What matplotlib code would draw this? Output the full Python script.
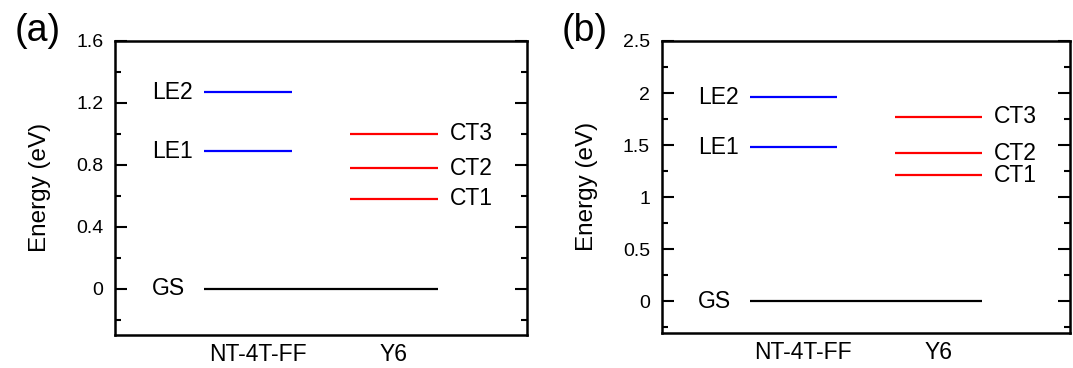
import matplotlib.pyplot as plt
from matplotlib.ticker import MultipleLocator

plt.rcParams["font.family"] = ["Liberation Sans", "DejaVu Sans"]

# state energies (eV)
donor_labels = ["LE1", "LE2"]
ct_labels = ["CT1", "CT2", "CT3"]

donor_a = [0.885, 1.266]
ct_a = [0.58, 0.778, 0.998]

donor_b = [1.478, 1.961]
ct_b = [1.21, 1.421, 1.772]

gs_energy = 0.0
categories = ["NT-4T-FF", "Y6"]

# horizontal extents of the level bars (x units)
donor_span = (0.864, 1.717)
ct_span = (2.283, 3.14)


def draw_panel(ax, donor, ct, ylim, major, minor):
    ax.hlines(gs_energy, donor_span[0], ct_span[1], color="black", lw=1.6)
    ax.hlines(donor, donor_span[0], donor_span[1], color="#0000ff", lw=1.6)
    ax.hlines(ct, ct_span[0], ct_span[1], color="#ff0000", lw=1.6)

    ax.text(0.357, gs_energy, "GS", ha="left", va="center", fontsize=16.5)
    for lab, e in zip(donor_labels, donor):
        ax.text(0.357, e, lab, ha="left", va="center", fontsize=16.5)
    for lab, e in zip(ct_labels, ct):
        ax.text(3.257, e, lab, ha="left", va="center", fontsize=16.5)

    ax.set_xlim(0, 4)
    ax.set_ylim(*ylim)
    ax.set_xticks([1.385, 2.71])
    ax.set_xticklabels(categories, fontsize=16.5)
    ax.tick_params(axis="x", length=0, pad=6)

    ax.yaxis.set_major_locator(MultipleLocator(major))
    ax.yaxis.set_minor_locator(MultipleLocator(minor))
    ax.tick_params(axis="y", which="both", direction="in", left=True, right=True,
                   width=1.5, labelsize=14, pad=8.5)
    ax.tick_params(axis="y", which="major", length=8.4)
    ax.tick_params(axis="y", which="minor", length=4.1)
    ax.set_ylabel("Energy (eV)", fontsize=17.5)
    ax.yaxis.set_label_coords(-0.156, 0.5)
    for s in ax.spines.values():
        s.set_linewidth(1.8)


fig = plt.figure(figsize=(10.73, 3.68), dpi=100)
ax1 = fig.add_axes([0.1072, 0.0897, 0.3837, 0.7997])
ax2 = fig.add_axes([0.6167, 0.0959, 0.3802, 0.7927])

draw_panel(ax1, donor_a, ct_a, (-0.3, 1.6), 0.4, 0.2)
ax1.yaxis.set_major_formatter(lambda v, p: "0" if abs(v) < 1e-9 else f"{v:.1f}")

draw_panel(ax2, donor_b, ct_b, (-0.3, 2.5), 0.5, 0.25)
ax2.yaxis.set_major_formatter(lambda v, p: f"{v:g}")

fig.text(0.0135, 0.915, "(a)", fontsize=27, va="center", ha="left")
fig.text(0.523, 0.915, "(b)", fontsize=27, va="center", ha="left")

fig.savefig("out.png", dpi=100)
